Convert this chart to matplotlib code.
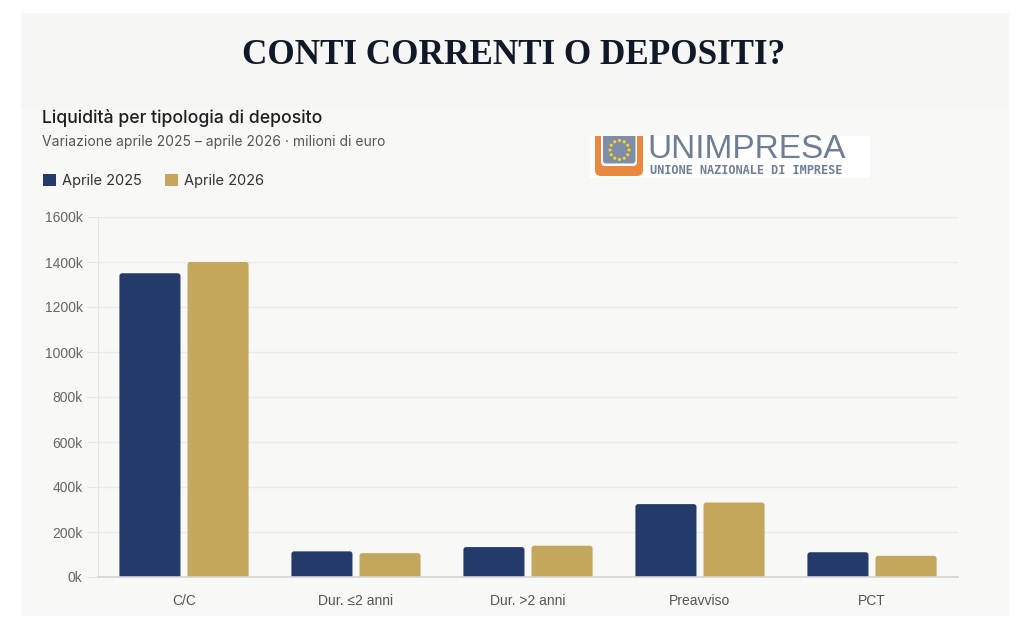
import matplotlib
matplotlib.use("Agg")
import matplotlib.pyplot as plt
import numpy as np
from matplotlib.patches import Rectangle, FancyBboxPatch, Circle, Patch

# ---------------- data (migliaia di milioni -> "k") ----------------
categories = ["C/C", "Dur. ≤2 anni", "Dur. >2 anni", "Preavviso", "PCT"]
apr2025 = [1350, 114, 133, 324, 110]
apr2026 = [1400, 106, 139, 331, 94]
series_labels = ["Aprile 2025", "Aprile 2026"]
yticks = [0, 200, 400, 600, 800, 1000, 1200, 1400, 1600]
ytick_labels = [f"{v}k" for v in yticks]

title = "CONTI CORRENTI O DEPOSITI?"
subtitle = "Liquidità per tipologia di deposito"
subtitle2 = "Variazione aprile 2025 – aprile 2026 · milioni di euro"

NAVY = "#243b6a"
GOLD = "#c3a75c"

W, H = 1024, 635
fig = plt.figure(figsize=(W / 100, H / 100), dpi=100)
fig.patch.set_facecolor("white")


def fx(x):
    return x / W


def fy(y):
    return 1 - y / H


# background panels
fig.patches.append(Rectangle((fx(22), fy(615)), fx(1008) - fx(22), fy(107) - fy(615),
                             transform=fig.transFigure, color="#f8f8f6", zorder=-5))
fig.patches.append(Rectangle((fx(21), fy(107)), fx(1008) - fx(21), fy(13) - fy(107),
                             transform=fig.transFigure, color="#f6f6f4", zorder=-5))

# titles
fig.text(fx(514), fy(55), title, ha="center", va="center", family="Liberation Serif",
         weight="bold", fontsize=25.3, color="#111827")
fig.text(fx(42), fy(118), subtitle, ha="left", va="center", family="Inter",
         weight="medium", fontsize=12.7, color="#1f1f1f")
fig.text(fx(42), fy(142), subtitle2, ha="left", va="center", family="Inter",
         fontsize=10, color="#555555")

# ---------------- main axes ----------------
ax = fig.add_axes([fx(98), fy(577), 860 / W, 360 / H])
ax.set_facecolor("none")
x = np.arange(len(categories))
w = 0.355
off = 0.198
b1 = ax.bar(x - off, apr2025, w, color=NAVY)
b2 = ax.bar(x + off, apr2026, w, color=GOLD)

# rounded tops
asp = (1 / 0.225) / (1 / 172.0)
for cont, col in ((b1, NAVY), (b2, GOLD)):
    for r in cont:
        r.set_visible(False)
        bx, by = r.get_x(), r.get_y()
        bw, bh = r.get_width(), r.get_height()
        p = FancyBboxPatch((bx, by - 30), bw, bh + 30,
                           boxstyle="round,pad=0,rounding_size=0.016",
                           mutation_aspect=asp, facecolor=col, edgecolor="none",
                           zorder=2)
        ax.add_patch(p)

ax.set_xlim(-0.5, len(categories) - 0.5)
ax.set_ylim(0, 1600)
ax.set_yticks(yticks)
ax.set_yticklabels(ytick_labels, family="Liberation Sans", fontsize=10, color="#666666")
ax.set_xticks(x)
ax.set_xticklabels(categories, family="Liberation Sans", fontsize=10, color="#555555")
ax.tick_params(axis="x", length=0, pad=12)
ax.tick_params(axis="y", length=8, color="#e6e6e4", pad=3)
ax.yaxis.grid(True, color="#eaeae8", lw=1)
ax.set_axisbelow(True)
for s in ("top", "right"):
    ax.spines[s].set_visible(False)
ax.spines["left"].set_color("#e6e6e4")
ax.spines["bottom"].set_color("#d4d4d2")
ax.spines["bottom"].set_linewidth(1.2)

# legend
handles = [Patch(facecolor=NAVY, edgecolor="none"), Patch(facecolor=GOLD, edgecolor="none")]
leg = fig.legend(handles, series_labels, loc="center left",
                 bbox_to_anchor=(fx(30), fy(181)), bbox_transform=fig.transFigure,
                 ncol=2, frameon=False, handlelength=0.85, handleheight=0.85,
                 handletextpad=0.45, columnspacing=1.6,
                 prop={"family": "Inter", "size": 10.5})
for t in leg.get_texts():
    t.set_color("#333333")

# ---------------- logo ----------------
lax = fig.add_axes([fx(590), fy(178), 280 / W, 42 / H])
lax.set_xlim(590, 870)
lax.set_ylim(178, 136)
lax.axis("off")
lax.add_patch(Rectangle((590, 136), 280, 42, color="white", zorder=0))
ORANGE = "#e9883f"
lax.add_patch(FancyBboxPatch((595, 120), 48, 56, boxstyle="round,pad=0,rounding_size=6",
                             facecolor=ORANGE, edgecolor="none", zorder=1))
lax.add_patch(FancyBboxPatch((601, 120), 36, 46, boxstyle="round,pad=0,rounding_size=4",
                             facecolor="white", edgecolor="none", zorder=2))
lax.add_patch(FancyBboxPatch((603, 120), 32.5, 43.5, boxstyle="round,pad=0,rounding_size=3",
                             facecolor="#7f8ea6", edgecolor="none", zorder=3))
for k in range(12):
    a = 2 * np.pi * k / 12
    lax.add_patch(Circle((619.5 + 9.5 * np.cos(a), 150 + 9.5 * np.sin(a)), 0.9,
                         color="#f2d22c", zorder=4))
lax.text(647, 150, "UNIMPRESA", ha="left", va="center", family="Liberation Sans",
         fontsize=24, color="#6f7e94", zorder=5)
lax.text(650, 171, "UNIONE NAZIONALE DI IMPRESE", ha="left", va="center",
         family="DejaVu Sans Mono", weight="bold", fontsize=8.6, color="#6f7e94", zorder=5)

fig.savefig("out.png", dpi=100, facecolor=fig.get_facecolor())
